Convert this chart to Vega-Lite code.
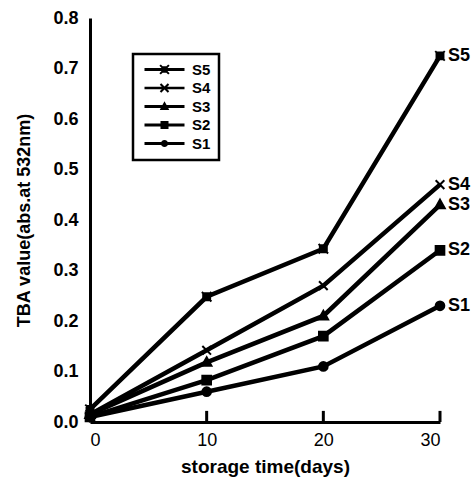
{
  "$schema": "https://vega.github.io/schema/vega-lite/v6.json",
  "autosize": "none",
  "width": 350,
  "height": 404,
  "padding": {"left": 90, "top": 18, "right": 35, "bottom": 56},
  "background": "white",
  "config": {
    "font": "Liberation Sans",
    "view": {"stroke": null},
    "legend": {"strokeWidth": 2.5, "strokeColor": "black"},
    "axis": {"grid": false, "domainColor": "black", "domainWidth": 3, "tickColor": "black", "labelColor": "black", "titleColor": "black", "labelFont": "Liberation Sans", "titleFont": "Liberation Sans"}
  },
  "data": {
    "values": [
      {"series": "S1", "day": 0, "value": 0.01},
      {"series": "S1", "day": 10, "value": 0.06},
      {"series": "S1", "day": 20, "value": 0.11},
      {"series": "S1", "day": 30, "value": 0.23},
      {"series": "S2", "day": 0, "value": 0.01},
      {"series": "S2", "day": 10, "value": 0.083},
      {"series": "S2", "day": 20, "value": 0.17},
      {"series": "S2", "day": 30, "value": 0.34},
      {"series": "S3", "day": 0, "value": 0.015},
      {"series": "S3", "day": 10, "value": 0.118},
      {"series": "S3", "day": 20, "value": 0.21},
      {"series": "S3", "day": 30, "value": 0.43},
      {"series": "S4", "day": 0, "value": 0.015},
      {"series": "S4", "day": 10, "value": 0.142},
      {"series": "S4", "day": 20, "value": 0.27},
      {"series": "S4", "day": 30, "value": 0.47},
      {"series": "S5", "day": 0, "value": 0.025},
      {"series": "S5", "day": 10, "value": 0.248},
      {"series": "S5", "day": 20, "value": 0.343},
      {"series": "S5", "day": 30, "value": 0.725}
    ]
  },
  "encoding": {
    "x": {"field": "day", "type": "quantitative", "scale": {"domain": [0, 30], "nice": false, "zero": false},
      "axis": {"values": [0, 10, 20, 30], "format": "d", "ticks": false, "labelFontSize": 18, "labelPadding": 9, "title": "storage time(days)", "titleFontSize": 19, "titleFontWeight": "bold", "titlePadding": 8}},
    "y": {"field": "value", "type": "quantitative", "scale": {"domain": [0, 0.8], "nice": false},
      "axis": {"values": [0, 0.1, 0.2, 0.3, 0.4, 0.5, 0.6, 0.7, 0.8], "format": ".1f", "ticks": false, "labelFontSize": 18, "labelFontWeight": "bold", "labelPadding": 12, "title": "TBA value(abs.at 532nm)", "titleFontSize": 18, "titleFontWeight": "bold", "titlePadding": 19}}
  },
  "layer": [
    {
      "transform": [{"filter": "datum.series == 'S1' && datum.day > 0"}],
      "mark": {"type": "rule", "color": "black", "strokeWidth": 3},
      "encoding": {"y": {"datum": 0}, "y2": {"datum": 0.022}}
    },
    {
      "mark": {"type": "line", "color": "black", "strokeWidth": 4.5},
      "encoding": {"detail": {"field": "series"}}
    },
    {
      "mark": {"type": "point", "filled": true, "fill": "black", "stroke": "black", "size": 75, "opacity": 1, "strokeWidth": 2},
      "encoding": {
        "shape": {"field": "series", "type": "nominal",
          "scale": {"domain": ["S5", "S4", "S3", "S2", "S1"],
            "range": [
              "M-0.8,-0.8H0.8V0.8H-0.8Z M-1.1,-1.1L1.1,1.1M-1.1,1.1L1.1,-1.1",
              "M-1,-1L1,1M-1,1L1,-1",
              "M0,-1.2L1.1,0.8H-1.1Z",
              "M-1,-1H1V1H-1Z",
              "M-1,0A1,1,0,1,1,1,0A1,1,0,1,1,-1,0Z"
            ]},
          "legend": null}
      }
    },
    {
      "mark": {"type": "point", "filled": true, "fill": "black", "size": 64, "opacity": 0},
      "encoding": {
        "shape": {"field": "series", "type": "nominal",
          "scale": {"domain": ["S5", "S4", "S3", "S2", "S1"],
            "range": [
              "M-1,-0.38L9,-0.38L9,0.38L-1,0.38Z M3.2,-0.8L4.8,-0.8L4.8,0.8L3.2,0.8Z M3.08,-1.28L5.28,0.92L4.92,1.28L2.72,-0.92Z M2.72,0.92L4.92,-1.28L5.28,-0.92L3.08,1.28Z",
              "M-1,-0.3L9,-0.3L9,0.3L-1,0.3Z M3.18,-1.18L5.18,0.82L4.82,1.18L2.82,-0.82Z M2.82,0.82L4.82,-1.18L5.18,-0.82L3.18,1.18Z",
              "M-1,-0.38L9,-0.38L9,0.38L-1,0.38Z M4,-1.3L5.2,0.9L2.8,0.9Z",
              "M-1,-0.38L9,-0.38L9,0.38L-1,0.38Z M3,-1L5,-1L5,1L3,1Z",
              "M-1,-0.38L9,-0.38L9,0.38L-1,0.38Z M3.1,0A0.9,0.9,0,1,1,4.9,0A0.9,0.9,0,1,1,3.1,0Z"
            ]},
          "legend": {"title": null, "orient": "none", "legendX": 43, "legendY": 36, "symbolSize": 64, "symbolOpacity": 1, "symbolFillColor": "black", "symbolStrokeWidth": 0, "labelFontSize": 15, "labelFontWeight": "bold", "labelColor": "black", "labelOffset": 36, "rowPadding": 2.5, "padding": 8}
        }
      }
    },
    {
      "transform": [{"filter": "datum.day == 30"}],
      "mark": {"type": "text", "align": "left", "dx": 8, "fontSize": 18, "fontWeight": "bold", "color": "black"},
      "encoding": {"text": {"field": "series"}}
    }
  ],
  "resolve": {"scale": {"shape": "independent"}, "legend": {"shape": "independent"}}
}
